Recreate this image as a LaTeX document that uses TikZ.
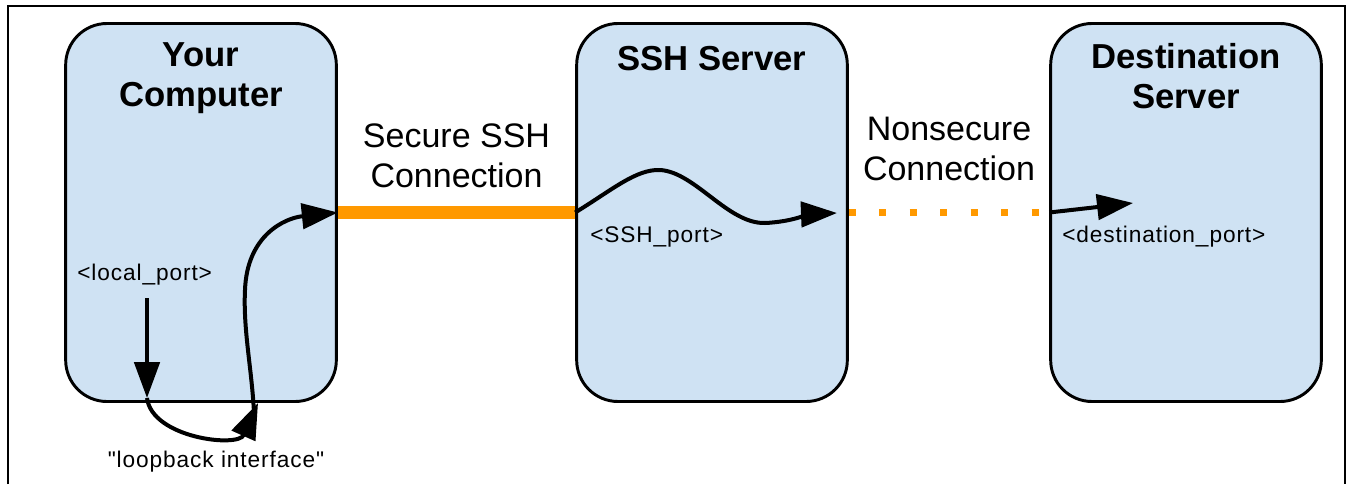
\documentclass[tikz,border=0pt]{standalone}
\usepackage{fontspec}
\setmainfont{Liberation Sans}
\newfontfamily\portfont[LetterSpace=4]{Liberation Sans}
\usetikzlibrary{positioning,arrows.meta}
\definecolor{hostblue}{HTML}{CFE2F3}
\definecolor{tunnelorange}{HTML}{FF9900}

\begin{document}
\begin{tikzpicture}[x=0.75pt,y=-0.75pt,
 host/.style={draw=black,line width=2.2pt,fill=hostblue,rounded corners=31pt,minimum width=203pt,minimum height=283.5pt,inner sep=0pt},
 title/.style={font=\fontsize{26}{30}\selectfont\bfseries,align=center,inner sep=0pt},
 conn/.style={font=\fontsize{25.5}{30}\selectfont,align=center,inner sep=0pt},
 port/.style={font=\portfont\fontsize{17}{20}\selectfont,inner sep=0pt},
 flow/.style={draw=black,line width=3pt,-{Triangle[length=27pt,width=19pt]}},
 secure/.style={draw=tunnelorange,line width=10pt},
 nonsecure/.style={draw=tunnelorange,line width=5.25pt,dash pattern=on 5.25pt off 17.6pt}]
\fill[white] (0,0) rectangle (1351,484);
\draw[line width=2pt] (8,484) -- (8,6) -- (1345,6) -- (1345,484);
\node[host] (computer) at (201,212.5) {};
\node[host] (sshsrv) at (712,212.5) {};
\node[host] (dest) at (1186,212.5) {};
\node[title,below=15.5pt of computer.north] (computertitle) {Your\\Computer};
\node[title,below=18pt of sshsrv.north] (sshtitle) {SSH Server};
\node[title,below=15.5pt of dest.north] (desttitle) {Destination\\Server};
\draw[secure] (computer.east) -- node[conn,above=13.5pt] (securelbl) {Secure SSH\\Connection} (sshsrv.west);
\draw[nonsecure] (sshsrv.east) -- node[conn,above=21pt] (nonsecurelbl) {Nonsecure\\Connection} (dest.west);
\node[port,anchor=base west] (localport) at (77,280) {<local\_port>};
\node[port,anchor=base west] (sshport) at (590,242) {<SSH\_port>};
\node[port,anchor=base west] (destport) at (1062,242) {<destination\_port>};
\node[port,anchor=base] (loopif) at (216,467) {"loopback interface"};
\coordinate (lpfrom) at (147,298);
\coordinate (lpto) at (147,398);
\coordinate (lpback) at (258,403);
\coordinate (lpup) at (254,413);
\coordinate (sshout) at (837,213);
\coordinate (destin) at (1133,203);
\draw[flow] (lpfrom) -- (lpto);
\draw[flow] (lpto) .. controls (152,438) and (238,448) .. (lpback);
\draw[flow] (lpup) .. controls (252,370) and (243,330) .. (245,290) .. controls (247,235) and (285,218) .. (computer.east);
\draw[flow] (sshsrv.west) .. controls (612,190) and (636,169) .. (660,170) .. controls (695,172) and (728,224) .. (765,223) .. controls (790,222) and (812,214) .. (sshout);
\draw[flow] (dest.west) -- (destin);
\end{tikzpicture}
\end{document}
